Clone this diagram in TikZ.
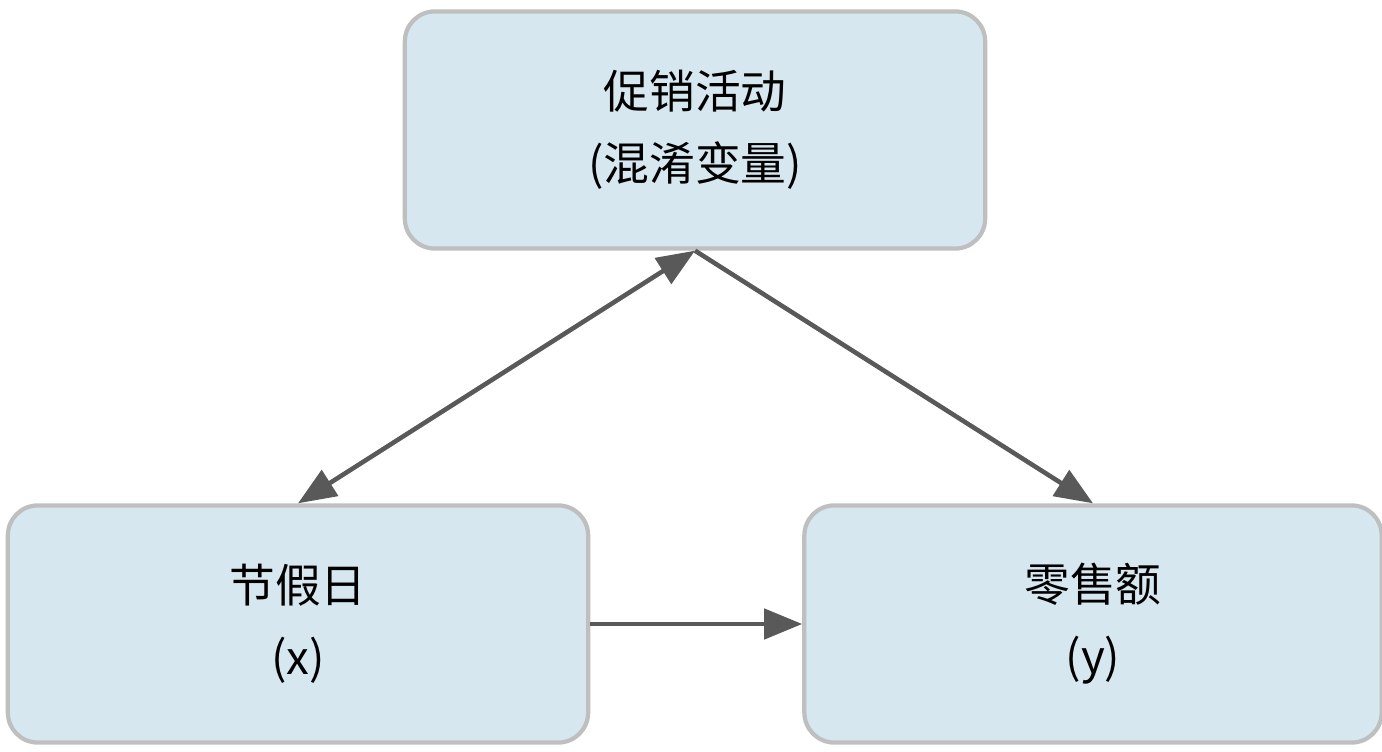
\documentclass[tikz,border=0pt]{standalone}
\usepackage{fontspec}
\setmainfont{Noto Sans CJK SC}
\usetikzlibrary{arrows.meta}

\tikzset{
  box/.style={draw=black!25, line width=1.2pt, fill={rgb,255:red,214;green,231;blue,240},
    rounded corners=0.3cm, minimum width=5.8cm, minimum height=2.37cm,
    align=center, font=\fontsize{13}{20.5}\selectfont},
  link/.style={draw=black!65, line width=1.3pt, -{Triangle[length=0.38cm,width=0.3cm]}}
}

\begin{document}
\begin{tikzpicture}[x=0.01cm,y=-0.01cm]
\useasboundingbox (0,0) rectangle (1382,752);
%%
\node (promo) at (695,130) [box] {促销活动\\(混淆变量)};
  \node (holiday) at (298,624) [box] {节假日\\(x)};
  \node (sales) at (1093,624) [box, minimum width=5.77cm] {零售额\\(y)};
  \draw [link, {Triangle[length=0.38cm,width=0.3cm]}-{Triangle[length=0.38cm,width=0.3cm]}] (promo.south) -- (holiday.north);
  \draw [link] (promo.south) -- (sales.north);
  \draw [link] (holiday.east) -- (sales.west);
%
\end{tikzpicture}
\end{document}
